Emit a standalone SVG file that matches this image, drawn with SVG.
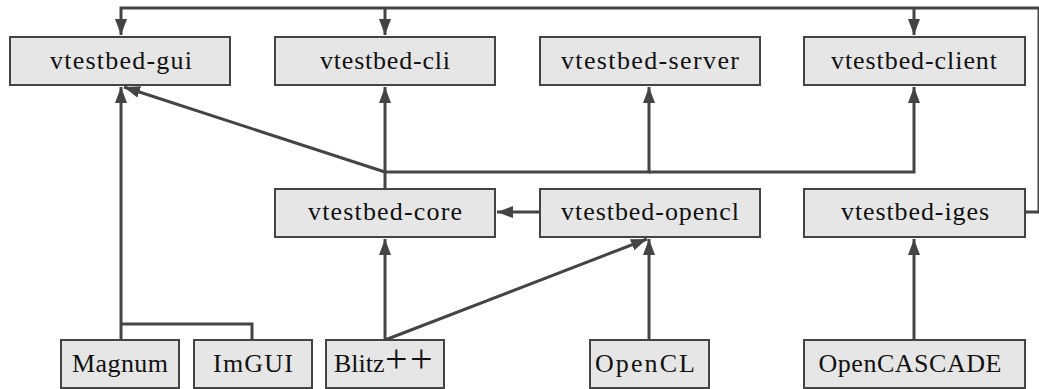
<svg xmlns="http://www.w3.org/2000/svg" width="1039" height="389" viewBox="0 0 1039 389">
<style>
.box{fill:#e6e6e6;stroke:#444;stroke-width:2}
.lbl{font-family:"Liberation Serif","Times New Roman",serif;font-size:26px;fill:#111;text-anchor:middle}
.edge{fill:none;stroke:#444;stroke-width:3}
</style>
<defs>
<marker id="ah" markerUnits="userSpaceOnUse" markerWidth="16" markerHeight="12" refX="16" refY="6" orient="auto">
<path d="M0,0 L16,6 L0,12 z" fill="#444"/>
</marker>
</defs>
<rect width="1039" height="389" fill="#fff"/>
<g id="connectors">
<path class="edge" d="M1025,212 H1039 V8 H121 V35" marker-end="url(#ah)"/>
<path class="edge" d="M385,8 V35" marker-end="url(#ah)"/>
<path class="edge" d="M914,8 V35" marker-end="url(#ah)"/>
<path class="edge" d="M385,188 V87" marker-end="url(#ah)"/>
<path class="edge" d="M385,172 L124,87" marker-end="url(#ah)"/>
<path class="edge" d="M385,172 H649 V87" marker-end="url(#ah)"/>
<path class="edge" d="M649,172 H914 V87" marker-end="url(#ah)"/>
<path class="edge" d="M540,212 H497" marker-end="url(#ah)"/>
<path class="edge" d="M121,340 V87" marker-end="url(#ah)"/>
<path class="edge" d="M252,340 V324 H121"/>
<path class="edge" d="M385,340 V239" marker-end="url(#ah)"/>
<path class="edge" d="M385,340 L647,239" marker-end="url(#ah)"/>
<path class="edge" d="M649,340 V239" marker-end="url(#ah)"/>
<path class="edge" d="M914,340 V239" marker-end="url(#ah)"/>
</g>
<g id="vtestbed-gui"><rect class="box" x="10" y="37" width="220" height="48"/><text class="lbl" x="121" y="69" textLength="142" lengthAdjust="spacing">vtestbed-gui</text></g>
<g id="vtestbed-cli"><rect class="box" x="275" y="37" width="220" height="48"/><text class="lbl" x="385" y="69" textLength="130" lengthAdjust="spacing">vtestbed-cli</text></g>
<g id="vtestbed-server"><rect class="box" x="540" y="37" width="220" height="48"/><text class="lbl" x="650" y="69" textLength="178" lengthAdjust="spacing">vtestbed-server</text></g>
<g id="vtestbed-client"><rect class="box" x="804" y="37" width="221" height="48"/><text class="lbl" x="914" y="69" textLength="166" lengthAdjust="spacing">vtestbed-client</text></g>
<g id="vtestbed-core"><rect class="box" x="275" y="189" width="220" height="48"/><text class="lbl" x="385" y="220" textLength="154" lengthAdjust="spacing">vtestbed-core</text></g>
<g id="vtestbed-opencl"><rect class="box" x="540" y="189" width="220" height="48"/><text class="lbl" x="650" y="220" textLength="178" lengthAdjust="spacing">vtestbed-opencl</text></g>
<g id="vtestbed-iges"><rect class="box" x="804" y="189" width="221" height="48"/><text class="lbl" x="915" y="220" textLength="148" lengthAdjust="spacing">vtestbed-iges</text></g>
<g id="Magnum"><rect class="box" x="61" y="340" width="118" height="48"/><text class="lbl" x="120" y="372" textLength="96" lengthAdjust="spacing">Magnum</text></g>
<g id="ImGUI"><rect class="box" x="194" y="340" width="118" height="48"/><text class="lbl" x="253" y="372" textLength="80" lengthAdjust="spacing">ImGUI</text></g>
<g id="Blitz"><rect class="box" x="326" y="340" width="118" height="48"/><text class="lbl" x="334" y="372" style="text-anchor:start">Blitz<tspan x="385" style="font-size:40px">+</tspan><tspan x="410" style="font-size:40px">+</tspan></text></g>
<g id="OpenCL"><rect class="box" x="590" y="340" width="119" height="48"/><text class="lbl" x="645" y="372" textLength="100" lengthAdjust="spacing">OpenCL</text></g>
<g id="OpenCASCADE"><rect class="box" x="804" y="340" width="221" height="48"/><text class="lbl" x="910" y="372" textLength="183" lengthAdjust="spacing">OpenCASCADE</text></g>
</svg>
